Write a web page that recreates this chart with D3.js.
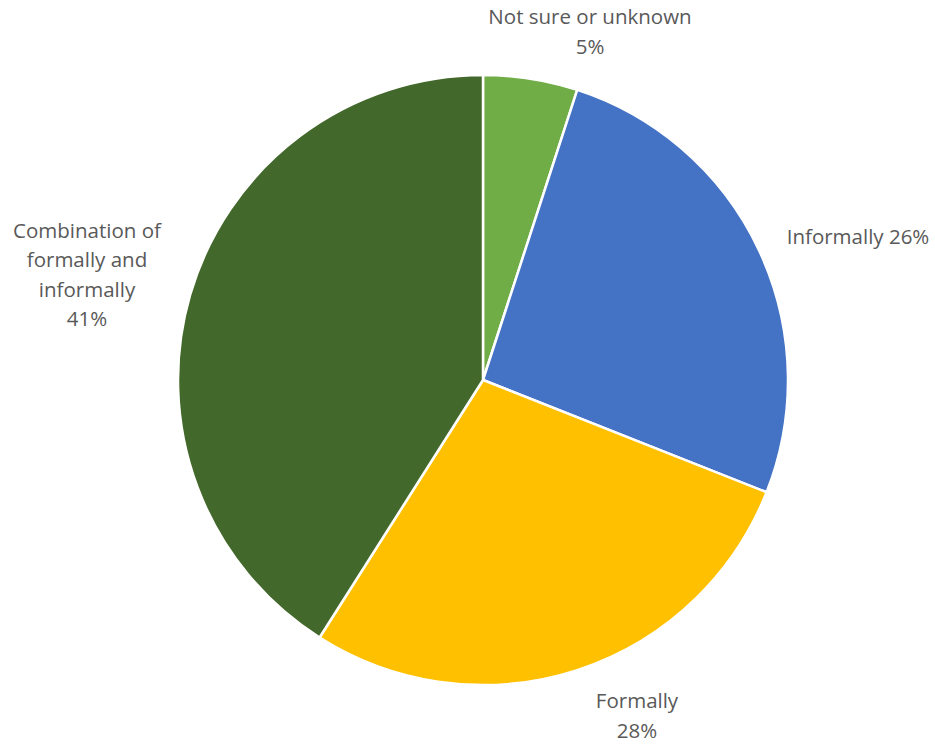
<!DOCTYPE html>
<html>
<head>
<meta charset="utf-8">
<script src="https://cdn.jsdelivr.net/npm/d3@7"></script>
<style>
  body { margin: 0; background: #fff; }
  text { font-family: "Open Sans", "Noto Sans", sans-serif; fill: #595959; }
</style>
</head>
<body>
<svg width="935" height="744"></svg>
<script>
// Data
var categories = ["Not sure or unknown", "Informally", "Formally", "Combination of formally and informally"];
var values = [5, 26, 28, 41];
var colors = ["#70AD47", "#4472C4", "#FFC000", "#43682B"];

// label lines (how each label wraps)
var labelLines = [
    ["Not sure or unknown", "5%"],
    ["Informally 26%"],
    ["Formally", "28%"],
    ["Combination of", "formally and", "informally", "41%"]
];

var svg = d3.select("svg"),
    cx = 483,
    cy = 380,
    radius = 305;

var pie = d3.pie().sort(null).value(function (d) { return d; });
var arc = d3.arc().innerRadius(0).outerRadius(radius);

var g = svg.append("g").attr("transform", "translate(" + cx + "," + cy + ")");

var arcs = pie(values);

g.selectAll("path")
    .data(arcs)
    .enter()
    .append("path")
    .attr("d", arc)
    .attr("fill", function (d, i) { return colors[i]; })
    .attr("stroke", "#fff")
    .attr("stroke-width", 2.5)
    .attr("stroke-linejoin", "round");

// label placement, roughly where Excel's "best fit" put them (offset from pie centre)
var labelPos = [
    [107, -348],
    [375, -143],
    [154, 336],
    [-396, -105]
];
var lineH = 29.5;

labelLines.forEach(function (lines, i) {
    var n = lines.length;
    var t = g.append("text")
        .attr("text-anchor", "middle")
        .attr("font-size", 20.5);
    lines.forEach(function (s, j) {
        t.append("tspan")
            .attr("x", labelPos[i][0])
            .attr("y", labelPos[i][1] + (j - (n - 1) / 2) * lineH)
            .attr("dy", "0.35em")
            .text(s);
    });
});
</script>
</body>
</html>
